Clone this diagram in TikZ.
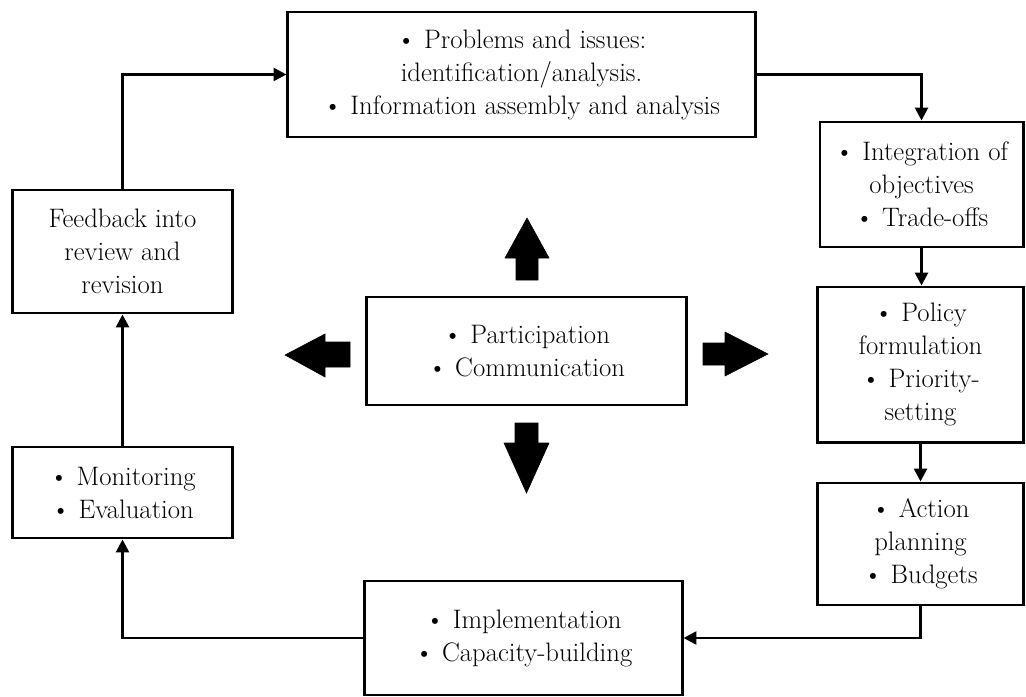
\documentclass[tikz,border=0pt]{standalone}
\usepackage{fontspec}
\usetikzlibrary{arrows.meta}

\tikzset{
  stage/.style={draw,line width=2.1pt,align=center,inner sep=2pt,
    font=\fontsize{19}{23.5}\selectfont},
  flow/.style={line width=1.9pt,-{Triangle[length=0.32cm,width=0.32cm]}}
}

\begin{document}
\begin{tikzpicture}[x=0.025cm,y=-0.025cm]
\useasboundingbox (0,0) rectangle (1026,697);

\node[stage,minimum width=11.675cm,minimum height=3.125cm] (prob) at (521.5,74.5)
  {\textbullet\ Problems and issues:\\ identification/analysis.\\ \textbullet\ Information assembly and analysis};
\node[stage,minimum width=5.075cm,minimum height=3.125cm] (integ) at (921.5,184.5)
  {\textbullet\ Integration of\\ objectives\\ \textbullet\ Trade-offs};
\node[stage,minimum width=5.15cm,minimum height=3.875cm] (policy) at (920.5,364.5)
  {\textbullet\ Policy\\ formulation\\ \textbullet\ Priority-\\ setting};
\node[stage,minimum width=5.15cm,minimum height=3.05cm] (action) at (920.5,544)
  {\textbullet\ Action\\ planning\\ \textbullet\ Budgets};
\node[stage,minimum width=7.925cm,minimum height=2.85cm] (impl) at (523.5,638)
  {\textbullet\ Implementation\\ \textbullet\ Capacity-building};
\node[stage,minimum width=5.5cm,minimum height=2.275cm] (monit) at (122.5,492.5)
  {\textbullet\ Monitoring\\ \textbullet\ Evaluation};
\node[stage,minimum width=5.5cm,minimum height=3.075cm] (feed) at (122.5,251.5)
  {Feedback into\\ review and\\ revision};
\node[stage,minimum width=7.975cm,minimum height=2.7cm] (hub) at (526.5,351)
  {\textbullet\ Participation\\ \textbullet\ Communication};

\draw[flow] (feed.north) |- (prob.west);
\draw[flow] (prob.east) -| (integ.north);
\draw[flow] (integ.south) -- (integ.south |- policy.north);
\draw[flow] (policy.south) -- (action.north);
\draw[flow] (action.south) |- (impl.east);
\draw[flow] (impl.west) -| (monit.south);
\draw[flow] (monit.north) -- (feed.south);

\path[draw,fill]%
(527,218)--(549,258)--(538,258)--(538,280)--(516,280)--(516,258)--(505,258)--cycle;
\path[draw,fill]%
(515,423)--(538,423)--(538,443)--(549,443)--(526.5,493)--(504,443)--(515,443)--cycle;
\path[draw,fill]%
(285,355)--(325,334)--(325,342)--(350,342)--(350,367)--(325,367)--(325,377)--cycle;
\path[draw,fill]%
(703,343)--(725,343)--(725,332)--(768,354)--(725,376)--(725,365)--(703,365)--cycle;

\end{tikzpicture}
\end{document}
